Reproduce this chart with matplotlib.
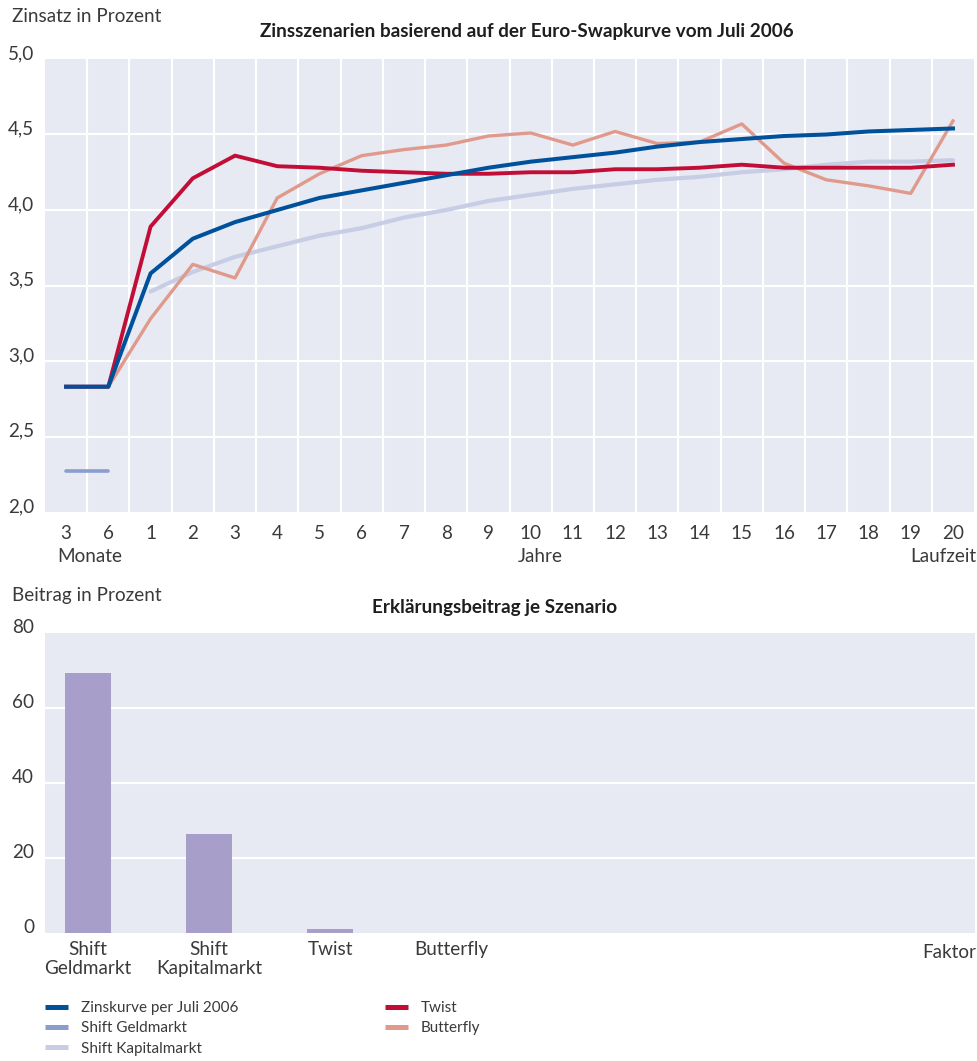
import matplotlib
matplotlib.use('Agg')
import matplotlib.pyplot as plt
from matplotlib.lines import Line2D
import numpy as np

plt.rcParams['font.family'] = ['Lato', 'DejaVu Sans']

# --- data: top chart (interest rate scenarios) ---
tick_labels = ['3', '6'] + [str(i) for i in range(1, 21)]
zinskurve = [2.83, 2.83, 3.58, 3.81, 3.92, 4.00, 4.08, 4.13, 4.18, 4.23, 4.28,
             4.32, 4.35, 4.38, 4.42, 4.45, 4.47, 4.49, 4.50, 4.52, 4.53, 4.54]
twist = [2.83, 2.83, 3.89, 4.21, 4.36, 4.29, 4.28, 4.26, 4.25, 4.24, 4.24,
         4.25, 4.25, 4.27, 4.27, 4.28, 4.30, 4.28, 4.28, 4.28, 4.28, 4.30]
butterfly = [2.83, 2.83, 3.28, 3.64, 3.55, 4.08, 4.24, 4.36, 4.40, 4.43, 4.49,
             4.51, 4.43, 4.52, 4.44, 4.45, 4.57, 4.31, 4.20, 4.16, 4.11, 4.59]
shift_geld = [2.27, 2.27]
shift_kapital = [3.46, 3.59, 3.69, 3.76, 3.83, 3.88, 3.95, 4.00, 4.06, 4.10,
                 4.14, 4.17, 4.20, 4.22, 4.25, 4.27, 4.30, 4.32, 4.32, 4.33]

# --- data: bottom chart (explanatory contribution) ---
factors = ['Shift\nGeldmarkt', 'Shift\nKapitalmarkt', 'Twist', 'Butterfly']
beitrag = [69.2, 26.3, 1.1, 0.0]

c_blue = '#00519b'
c_geld = '#8a9dcf'
c_kap = '#c8cde6'
c_red = '#c20e37'
c_butter = '#e09a8c'
c_bar = '#a79ec9'
c_bg = '#e7e9f3'
c_text = '#3a3a3a'
fs = 13.6

fig = plt.figure(figsize=(9.78, 10.61), dpi=100)

# === top chart ===
ax = fig.add_axes([0.046, 0.5174, 0.950, 0.4270])
ax.set_facecolor(c_bg)
x = np.arange(len(tick_labels))
ax.plot(x[2:], shift_kapital, color=c_kap, lw=3.0, solid_capstyle='round', zorder=3)
ax.plot(x[:2], shift_geld, color=c_geld, lw=2.6, solid_capstyle='round', zorder=3)
ax.plot(x, butterfly, color=c_butter, lw=2.4, zorder=4)
ax.plot(x, twist, color=c_red, lw=2.8, zorder=5)
ax.plot(x, zinskurve, color=c_blue, lw=2.9, zorder=6)

ax.set_xlim(-0.5, len(tick_labels) - 0.5)
ax.set_ylim(2.0, 5.0)
ax.set_xticks(x)
ax.set_xticklabels(tick_labels)
ax.set_xticks(np.arange(0.5, len(tick_labels) - 1, 1.0), minor=True)
ax.set_yticks([2.0, 2.5, 3.0, 3.5, 4.0, 4.5, 5.0])
ax.set_yticklabels(['2,0', '2,5', '3,0', '3,5', '4,0', '4,5', '5,0'], va='baseline')
ax.grid(which='minor', axis='x', color='white', lw=1.6)
ax.grid(which='major', axis='y', color='white', lw=1.6)
gl = ax.yaxis.get_gridlines()
gl[0].set_visible(False)
gl[-1].set_visible(False)
ax.tick_params(which='both', length=0, labelsize=fs, colors=c_text)
ax.tick_params(axis='y', pad=8)
ax.tick_params(axis='x', pad=9)
for s in ax.spines.values():
    s.set_visible(False)
ax.set_axisbelow(True)

fig.text(12 / 978, 1 - 17 / 1061, 'Zinsatz in Prozent', fontsize=fs, color=c_text,
         ha='left', va='center')
fig.text(527 / 978, 1 - 32 / 1061, 'Zinsszenarien basierend auf der Euro-Swapkurve vom Juli 2006',
         fontsize=13.6, fontweight='bold', color='#1e1e1e', ha='center', va='center')
fig.text(90 / 978, 1 - 556 / 1061, 'Monate', fontsize=fs, color=c_text, ha='center', va='center')
fig.text(540 / 978, 1 - 556 / 1061, 'Jahre', fontsize=fs, color=c_text, ha='center', va='center')
fig.text(976 / 978, 1 - 556 / 1061, 'Laufzeit', fontsize=fs, color=c_text, ha='right', va='center')

# === bottom chart ===
ax2 = fig.add_axes([0.046, 0.1206, 0.951, 0.2828])
ax2.set_facecolor(c_bg)
xb = np.arange(len(factors))
ax2.bar(xb, beitrag, width=0.38, color=c_bar, zorder=3)
ax2.set_xlim(-0.355, 7.33)
ax2.set_ylim(0, 80)
ax2.set_xticks(xb)
ax2.set_xticklabels(factors, linespacing=1.15)
ax2.set_yticks([0, 20, 40, 60, 80])
ax2.set_yticklabels(['0', '20', '40', '60', '80'], va='baseline')
ax2.grid(axis='y', color='white', lw=1.6)
gl2 = ax2.yaxis.get_gridlines()
gl2[0].set_visible(False)
gl2[-1].set_visible(False)
ax2.tick_params(length=0, labelsize=fs, colors=c_text)
ax2.tick_params(axis='y', pad=8)
ax2.tick_params(axis='x', pad=6)
for s in ax2.spines.values():
    s.set_visible(False)
ax2.set_axisbelow(True)

fig.text(12 / 978, 1 - 595 / 1061, 'Beitrag in Prozent', fontsize=fs, color=c_text,
         ha='left', va='center')
fig.text(495 / 978, 1 - 608 / 1061, 'Erklärungsbeitrag je Szenario',
         fontsize=13.6, fontweight='bold', color='#1e1e1e', ha='center', va='center')
fig.text(976 / 978, 1 - 953 / 1061, 'Faktor', fontsize=fs, color=c_text, ha='right', va='center')

# === legend ===
handles = [Line2D([], [], color=c_blue, lw=3.6, solid_capstyle='butt'),
           Line2D([], [], color=c_geld, lw=3.6, solid_capstyle='butt'),
           Line2D([], [], color=c_kap, lw=3.6, solid_capstyle='butt'),
           Line2D([], [], color=c_red, lw=3.6, solid_capstyle='butt'),
           Line2D([], [], color=c_butter, lw=3.6, solid_capstyle='butt')]
labels = ['Zinskurve per Juli 2006', 'Shift Geldmarkt', 'Shift Kapitalmarkt', 'Twist', 'Butterfly']
leg = fig.legend(handles, labels, ncol=2, loc='upper left',
                 bbox_to_anchor=(45 / 978, 1 - 1001 / 1061), frameon=False,
                 fontsize=11, handlelength=1.5, handletextpad=0.85,
                 columnspacing=9.6, labelspacing=0.42, borderpad=0, borderaxespad=0)
for t in leg.get_texts():
    t.set_color(c_text)

plt.savefig('out.png', dpi=100)
